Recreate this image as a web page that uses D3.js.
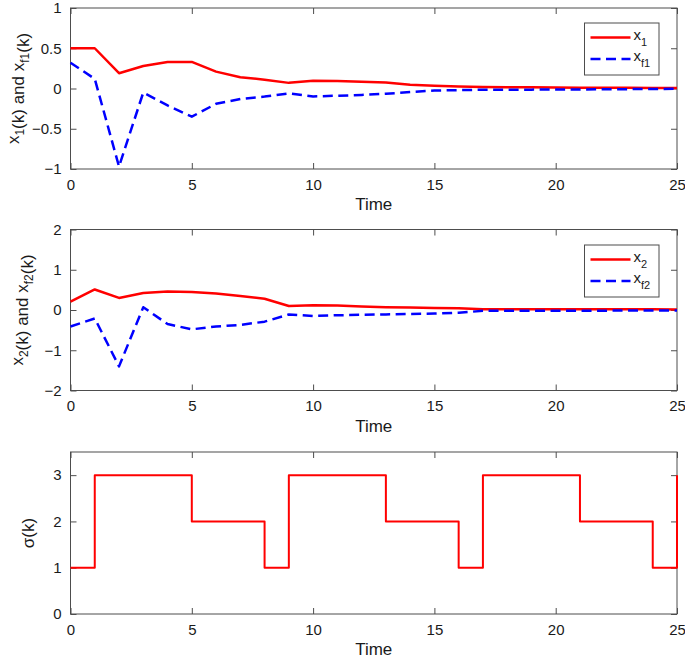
<!DOCTYPE html>
<html>
<head>
<meta charset="utf-8">
<script src="https://cdn.jsdelivr.net/npm/d3@7"></script>
<style>
  html, body { margin: 0; padding: 0; background: #fff; }
  svg { display: block; font-family: "Liberation Sans", Arial, sans-serif; }
</style>
</head>
<body>
<svg id="chart" width="685" height="660"></svg>
<script>
// ---- data ----
const timeK = [0,1,2,3,4,5,6,7,8,9,10,11,12,13,14,15,16,17,18,19,20,21,22,23,24,25];
const x1  = [0.50,0.50,0.19,0.28,0.33,0.33,0.21,0.14,0.11,0.07,0.095,0.093,0.085,0.076,0.047,0.035,0.025,0.018,0.016,0.014,0.012,0.010,0.009,0.008,0.007,0.006];
const xf1 = [0.32,0.12,-0.97,-0.05,-0.21,-0.35,-0.19,-0.13,-0.10,-0.06,-0.098,-0.09,-0.08,-0.065,-0.045,-0.025,-0.02,-0.016,-0.015,-0.014,-0.013,-0.012,-0.010,-0.008,-0.006,-0.004];
const x2  = [0.21,0.51,0.30,0.42,0.46,0.45,0.41,0.35,0.28,0.10,0.12,0.11,0.09,0.07,0.06,0.05,0.045,0.02,0.02,0.018,0.018,0.017,0.017,0.016,0.016,0.015];
const xf2 = [-0.41,-0.21,-1.40,0.07,-0.35,-0.48,-0.41,-0.37,-0.29,-0.11,-0.15,-0.13,-0.12,-0.11,-0.10,-0.09,-0.07,-0.02,-0.02,-0.02,-0.02,-0.018,-0.016,-0.014,-0.012,-0.01];
const sigma = [1,3,3,3,3,2,2,2,1,3,3,3,3,2,2,2,1,3,3,3,3,2,2,2,1,3];

const xTicks = [0,5,10,15,20,25];
const yTicks1 = [-1,-0.5,0,0.5,1];
const yTicks2 = [-2,-1,0,1,2];
const yTicks3 = [0,1,2,3];

// ---- layout ----
const svg = d3.select("#chart");
const L = 70.5, R = 677;
const axisColor = "#4d4d4d", textColor = "#1a1a1a";
const tickFont = 15, labelFont = 17;

const x = d3.scaleLinear().domain([0,25]).range([L,R]);

function panel(top, bottom, yDomain, yTicks, yFmt) {
  const y = d3.scaleLinear().domain(yDomain).range([bottom, top]);
  const g = svg.append("g");
  // box
  g.append("rect").attr("x", L).attr("y", top).attr("width", R-L).attr("height", bottom-top)
    .attr("fill", "none").attr("stroke", axisColor).attr("stroke-width", 1);
  // axes with inward ticks
  const ax = d3.axisBottom(x).tickValues(xTicks).tickSize(-6).tickPadding(10).tickFormat(d3.format("d"));
  const gx = g.append("g").attr("transform", `translate(0,${bottom})`).call(ax);
  const axT = d3.axisTop(x).tickValues(xTicks).tickSize(-6).tickFormat("");
  const gxt = g.append("g").attr("transform", `translate(0,${top})`).call(axT);
  const ay = d3.axisLeft(y).tickValues(yTicks).tickSize(-6).tickPadding(9).tickFormat(yFmt);
  const gy = g.append("g").attr("transform", `translate(${L},0)`).call(ay);
  const ayR = d3.axisRight(y).tickValues(yTicks).tickSize(-6).tickFormat("");
  const gyr = g.append("g").attr("transform", `translate(${R},0)`).call(ayR);
  [gx, gxt, gy, gyr].forEach(a => {
    a.select(".domain").remove();
    a.selectAll(".tick line").attr("stroke", axisColor);
    a.selectAll(".tick text").attr("fill", textColor).style("font-size", tickFont + "px")
      .style("font-family", '"Liberation Sans", Arial, sans-serif');
  });
  // Time label
  g.append("text").attr("x", (L+R)/2).attr("y", bottom + 41).attr("text-anchor", "middle")
    .attr("fill", textColor).style("font-size", labelFont + "px").text("Time");
  return y;
}

function yLabel(cx, cy, parts) {
  const t = svg.append("text").attr("transform", `translate(${cx},${cy}) rotate(-90)`)
    .attr("text-anchor", "middle").attr("fill", textColor).style("font-size", labelFont + "px");
  parts.forEach(p => {
    if (p.sub) {
      t.append("tspan").attr("dy", 5).style("font-size", "12px").text(p.sub);
      t.append("tspan").attr("dy", -5).text("");
    } else {
      t.append("tspan").text(p.t);
    }
  });
}

function drawLine(y, vals, color, dash, width, curve) {
  const line = d3.line().x((d,i) => x(timeK[i])).y(d => y(d)).curve(curve || d3.curveLinear);
  svg.append("path").datum(vals).attr("d", line).attr("fill", "none")
    .attr("stroke", color).attr("stroke-width", width)
    .attr("stroke-dasharray", dash || null).attr("stroke-linejoin", "round");
}

function legend(x0, y0, w, h, items) {
  const g = svg.append("g");
  g.append("rect").attr("x", x0).attr("y", y0).attr("width", w).attr("height", h)
    .attr("fill", "#fff").attr("stroke", axisColor).attr("stroke-width", 1);
  items.forEach((it, i) => {
    const yy = y0 + 14.5 + i * 21.5;
    g.append("line").attr("x1", x0 + 6).attr("x2", x0 + 46).attr("y1", yy).attr("y2", yy)
      .attr("stroke", it.color).attr("stroke-width", 2.5).attr("stroke-dasharray", it.dash || null);
    const t = g.append("text").attr("x", x0 + 49).attr("y", yy + 2).attr("fill", textColor).style("font-size", "15px");
    t.append("tspan").text("x");
    t.append("tspan").attr("dy", 6).style("font-size", "11px").text(it.sub);
  });
}

const fmt1 = d => (d === 0 ? "0" : d3.format("")(d));

// Panel 1
const y1 = panel(8, 169, [-1, 1], yTicks1, fmt1);
drawLine(y1, x1, "#ff0000", null, 2.5);
drawLine(y1, xf1, "#0000ff", "10,5.5", 2.5);
legend(584.5, 23, 74.5, 52, [{color:"#ff0000", sub:"1"}, {color:"#0000ff", dash:"10,5.5", sub:"f1"}]);
yLabel(19, 88.5, [{t:"x"},{sub:"1"},{t:"(k) and x"},{sub:"f1"},{t:"(k)"}]);

// Panel 2
const y2 = panel(229.5, 390.5, [-2, 2], yTicks2, fmt1);
drawLine(y2, x2, "#ff0000", null, 2.5);
drawLine(y2, xf2, "#0000ff", "10,5.5", 2.5);
legend(584.5, 245, 74.5, 52, [{color:"#ff0000", sub:"2"}, {color:"#0000ff", dash:"10,5.5", sub:"f2"}]);
yLabel(23, 310, [{t:"x"},{sub:"2"},{t:"(k) and x"},{sub:"f2"},{t:"(k)"}]);

// Panel 3
const y3 = panel(452, 614, [0, 3.5], yTicks3, fmt1);
drawLine(y3, sigma, "#ff0000", null, 2, d3.curveStepAfter);
yLabel(34, 533, [{t:"σ(k)"}]);
</script>
</body>
</html>
